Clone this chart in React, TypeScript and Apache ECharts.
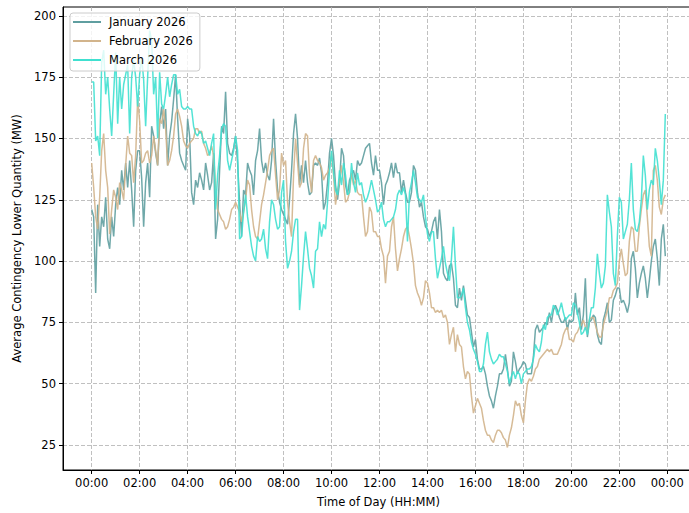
import React, { useEffect, useRef } from 'react';
import * as echarts from 'echarts';

const seriesNames = ['January 2026', 'February 2026', 'March 2026'];
const seriesColors = ['#5F9EA0', '#D2B48C', '#40E0D0'];
const stepMinutes = 5;

const jan = [
  121,118,87,123,106,118,114,126,109,105,118,110,
  123,130,123,137,129,140,130,141,129,114,137,145,
  145,134,114,132,140,126,155,151,144,139,156,163,
  154,162,139,151,157,166,176,158,144,141,139,137,
  158,151,128,123,133,130,136,133,129,140,135,129,
  132,144,109,117,137,155,152,169,148,144,143,146,
  151,140,124,110,129,127,140,137,135,127,141,145,
  154,141,136,140,135,133,141,158,141,129,124,121,
  119,117,115,125,137,152,160,150,131,139,132,141,
  132,127,128,139,140,139,142,136,121,124,132,144,
  150,143,131,125,132,146,143,131,127,133,135,137,
  133,141,139,140,143,146,147,148,140,135,143,137,
  137,132,123,131,133,136,140,134,140,136,136,128,
  133,128,124,124,128,139,137,128,122,124,118,114,
  113,110,112,116,118,109,121,112,95,93,92,98,
  99,93,82,81,89,84,90,84,78,77,71,65,
  68,60,56,56,57,54,49,45,43,40,45,49,
  54,54,56,62,56,49,51,63,59,54,56,57,
  59,58,54,54,54,61,72,74,71,72,73,75,
  74,79,75,80,82,80,77,75,75,77,72,76,
  75,76,87,78,81,72,78,93,69,75,76,78,
  77,70,67,66,76,79,83,75,76,84,86,89,
  89,83,84,82,79,83,101,104,97,85,91,95,
  98,93,85,92,100,106,109,101,90,109,115,102,
];

const feb = [
  140,130,118,113,126,145,152,137,130,111,121,129,
  126,121,132,129,125,139,151,144,143,132,143,166,
  157,140,141,144,145,140,143,151,145,139,158,156,
  162,154,139,141,145,151,160,162,159,155,149,147,
  146,148,149,150,154,154,152,153,148,146,143,144,
  147,143,131,121,119,117,116,113,114,117,121,122,
  124,122,120,116,120,125,133,131,121,114,110,109,
  116,123,127,132,137,143,145,146,135,125,129,144,
  139,141,124,116,110,135,150,140,130,132,146,152,
  151,135,128,141,143,141,140,138,133,135,136,138,
  144,135,123,129,132,139,132,124,125,128,136,131,
  133,128,127,127,118,110,112,122,120,112,112,110,
  110,105,102,91,102,104,114,118,105,96,101,105,
  110,113,114,110,105,99,90,87,85,82,85,92,
  91,87,81,81,79,80,79,80,77,78,75,66,
  70,73,63,70,66,65,57,52,55,54,45,38,
  41,44,42,40,35,31,29,29,27,26,29,31,
  31,30,28,27,24,29,32,37,43,41,42,37,
  34,43,50,52,51,53,56,57,60,61,62,63,
  64,63,64,62,62,62,64,66,70,72,73,68,
  68,67,70,71,73,74,76,73,71,76,77,77,
  74,71,69,69,74,77,80,85,85,88,89,91,
  100,105,99,94,95,108,114,113,104,104,114,121,
  127,129,118,106,102,137,139,133,122,119,125,127,
];

const mar = [
  173,173,149,151,143,181,186,168,175,162,151,168,
  185,156,175,162,172,176,180,152,175,182,175,163,
  176,183,174,155,175,194,190,168,175,150,177,164,
  162,168,175,167,172,176,176,168,170,163,162,162,
  163,162,162,155,152,151,153,152,148,149,146,143,
  148,152,121,135,143,154,156,155,141,137,141,145,
  151,145,109,110,120,127,118,112,106,102,100,110,
  108,109,113,105,101,116,125,123,117,113,114,128,
  133,108,97,100,104,112,117,117,80,90,102,112,
  105,97,94,89,104,105,116,110,115,113,124,137,
  145,136,129,127,137,131,140,135,127,128,140,132,
  128,136,131,132,127,124,126,129,133,129,125,120,
  121,124,117,114,116,116,117,118,121,127,129,127,
  130,127,108,128,132,137,132,126,125,124,127,118,
  111,108,112,112,101,93,97,101,106,99,95,92,
  101,114,98,85,85,86,89,81,75,72,67,64,
  62,59,55,55,58,66,71,63,60,58,59,60,
  62,61,61,58,55,50,53,55,52,55,54,50,
  54,55,56,56,57,60,66,64,63,67,74,72,
  77,78,78,82,81,78,80,83,79,76,77,78,
  78,83,82,79,75,70,71,73,70,76,81,81,
  89,103,95,89,91,98,127,120,114,95,90,110,
  126,124,109,112,115,125,140,121,113,112,116,125,
  143,135,121,129,133,131,146,141,133,123,133,160,
];

const xTickValues = [0, 120, 240, 360, 480, 600, 720, 840, 960, 1080, 1200, 1320, 1440];
const xTickLabels = ['00:00', '02:00', '04:00', '06:00', '08:00', '10:00', '12:00', '14:00', '16:00', '18:00', '20:00', '22:00', '00:00'];
const yTickValues = [25, 50, 75, 100, 125, 150, 175, 200];

const FONT = 'DejaVu Sans';

export default function App() {
  const ref = useRef<HTMLDivElement>(null);

  useEffect(() => {
    const chart = echarts.init(ref.current!, null, { renderer: 'svg' });
    const toPoints = (arr: number[]) => arr.map((v, i) => [i * stepMinutes, v]);
    const allData = [jan, feb, mar];

    const option = {
      animation: false,
      backgroundColor: '#ffffff',
      textStyle: { fontFamily: FONT },
      grid: {
        left: 63,
        right: 6,
        top: 7,
        bottom: 40,
        show: true,
        borderColor: '#000',
        borderWidth: 1,
        backgroundColor: 'transparent',
      },
      legend: {
        show: true,
        orient: 'vertical',
        left: 70,
        top: 13,
        padding: [2, 7, 4, 3],
        itemGap: 5,
        itemWidth: 28,
        itemHeight: 2,
        icon: 'rect',
        backgroundColor: 'rgba(255,255,255,0.8)',
        borderColor: '#cccccc',
        borderWidth: 1,
        borderRadius: 3,
        textStyle: { fontFamily: FONT, fontSize: 11.5, color: '#000', lineHeight: 14, padding: [0, 0, 0, 3] },
        data: seriesNames,
      },
      xAxis: {
        type: 'value',
        min: -71.75,
        max: 1506.75,
        name: 'Time of Day (HH:MM)',
        nameLocation: 'middle',
        nameGap: 26,
        nameTextStyle: { fontFamily: FONT, fontSize: 11.5, color: '#000' },
        axisLine: { show: true, onZero: false, lineStyle: { color: '#000', width: 1 } },
        axisTick: { show: true, inside: false, length: 4, lineStyle: { color: '#000', width: 1 }, customValues: xTickValues },
        axisLabel: {
          show: true,
          margin: 7,
          fontFamily: FONT,
          fontSize: 11.5,
          color: '#000',
          customValues: xTickValues,
          formatter: (v: number) => {
            const idx = xTickValues.indexOf(v);
            return idx >= 0 ? xTickLabels[idx] : '';
          },
        },
        splitLine: { show: true, lineStyle: { color: '#b0b0b0', width: 0.8, type: [4, 2] } },
      },
      yAxis: {
        type: 'value',
        min: 14.8,
        max: 203.6,
        name: 'Average Contingency Lower Quantity (MW)',
        nameLocation: 'middle',
        nameGap: 39,
        nameTextStyle: { fontFamily: FONT, fontSize: 11.5, color: '#000' },
        axisLine: { show: true, onZero: false, lineStyle: { color: '#000', width: 1 } },
        axisTick: { show: true, inside: false, length: 4, lineStyle: { color: '#000', width: 1 }, customValues: yTickValues },
        axisLabel: {
          show: true,
          margin: 7,
          fontFamily: FONT,
          fontSize: 11.5,
          color: '#000',
          customValues: yTickValues,
        },
        splitLine: { show: true, lineStyle: { color: '#b0b0b0', width: 0.8, type: [4, 2] } },
      },
      series: seriesNames.map((name, k) => ({
        name,
        type: 'line',
        data: toPoints(allData[k]),
        showSymbol: false,
        symbol: 'none',
        smooth: false,
        clip: true,
        lineStyle: { color: seriesColors[k], width: 1.5, opacity: 0.9 },
        itemStyle: { color: seriesColors[k] },
      })),
    };

    chart.setOption(option as any);
    return () => chart.dispose();
  }, []);

  return (
    <div style={{ position: 'fixed', left: 0, top: 0, width: 689, height: 513, overflow: 'hidden', background: '#fff' }}>
      <div ref={ref} style={{ position: 'absolute', left: 0, top: 0, width: 700, height: 513 }} />
    </div>
  );
}
